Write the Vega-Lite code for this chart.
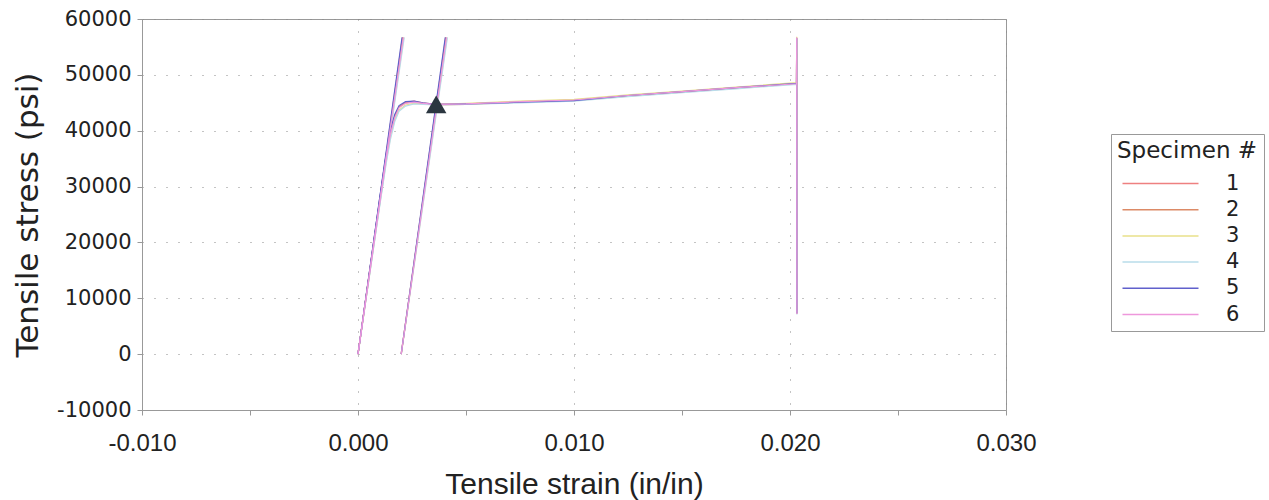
{
  "$schema": "https://vega.github.io/schema/vega-lite/v6.json",
  "autosize": {"type": "none"},
  "padding": {"left": 142, "top": 19, "right": 263, "bottom": 90},
  "width": 864,
  "height": 391,
  "background": "white",
  "config": {
    "font": "DejaVu Sans",
    "view": {"stroke": "#999999", "strokeWidth": 1},
    "axis": {
      "domainColor": "#999999",
      "tickColor": "#999999",
      "labelColor": "#222222",
      "titleColor": "#222222",
      "titleFontWeight": "normal"
    }
  },
  "layer": [
    {
      "data": {
        "values": [
          {"s":"1","g":"c","i":0,"x":0,"y":0},{"s":"1","g":"c","i":1,"x":0.0005,"y":13600},{"s":"1","g":"c","i":2,"x":0.001,"y":27200},{"s":"1","g":"c","i":3,"x":0.0013,"y":35200},{"s":"1","g":"c","i":4,"x":0.0015,"y":39600},{"s":"1","g":"c","i":5,"x":0.0017,"y":42600},{"s":"1","g":"c","i":6,"x":0.0019,"y":44300},{"s":"1","g":"c","i":7,"x":0.0022,"y":45100},{"s":"1","g":"c","i":8,"x":0.0026,"y":45300},{"s":"1","g":"c","i":9,"x":0.003,"y":45000},{"s":"1","g":"c","i":10,"x":0.0036,"y":44700},{"s":"1","g":"c","i":11,"x":0.005,"y":44800},{"s":"1","g":"c","i":12,"x":0.0075,"y":45200},{"s":"1","g":"c","i":13,"x":0.01,"y":45500},{"s":"1","g":"c","i":14,"x":0.0125,"y":46300},{"s":"1","g":"c","i":15,"x":0.015,"y":47000},{"s":"1","g":"c","i":16,"x":0.0175,"y":47700},{"s":"1","g":"c","i":17,"x":0.0203,"y":48500},{"s":"1","g":"c","i":18,"x":0.02031,"y":56700},{"s":"1","g":"c","i":19,"x":0.02032,"y":7300},
          {"s":"1","g":"m","i":0,"x":0,"y":0},{"s":"1","g":"m","i":1,"x":0.00208,"y":56700},
          {"s":"1","g":"o","i":0,"x":0.002,"y":0},{"s":"1","g":"o","i":1,"x":0.00408,"y":56700},

          {"s":"2","g":"c","i":0,"x":0,"y":0},{"s":"2","g":"c","i":1,"x":0.0005,"y":13800},{"s":"2","g":"c","i":2,"x":0.001,"y":27500},{"s":"2","g":"c","i":3,"x":0.0013,"y":35400},{"s":"2","g":"c","i":4,"x":0.0015,"y":39700},{"s":"2","g":"c","i":5,"x":0.0017,"y":42600},{"s":"2","g":"c","i":6,"x":0.0019,"y":44200},{"s":"2","g":"c","i":7,"x":0.0022,"y":45000},{"s":"2","g":"c","i":8,"x":0.0026,"y":45200},{"s":"2","g":"c","i":9,"x":0.003,"y":44900},{"s":"2","g":"c","i":10,"x":0.0036,"y":44600},{"s":"2","g":"c","i":11,"x":0.005,"y":44700},{"s":"2","g":"c","i":12,"x":0.0075,"y":45100},{"s":"2","g":"c","i":13,"x":0.01,"y":45400},{"s":"2","g":"c","i":14,"x":0.0125,"y":46200},{"s":"2","g":"c","i":15,"x":0.015,"y":46900},{"s":"2","g":"c","i":16,"x":0.0175,"y":47600},{"s":"2","g":"c","i":17,"x":0.0203,"y":48400},{"s":"2","g":"c","i":18,"x":0.02031,"y":56500},{"s":"2","g":"c","i":19,"x":0.02032,"y":7200},
          {"s":"2","g":"m","i":0,"x":0,"y":0},{"s":"2","g":"m","i":1,"x":0.00206,"y":56700},
          {"s":"2","g":"o","i":0,"x":0.002,"y":0},{"s":"2","g":"o","i":1,"x":0.00406,"y":56700},

          {"s":"3","g":"c","i":0,"x":0,"y":0},{"s":"3","g":"c","i":1,"x":0.0005,"y":13300},{"s":"3","g":"c","i":2,"x":0.001,"y":26700},{"s":"3","g":"c","i":3,"x":0.0013,"y":34400},{"s":"3","g":"c","i":4,"x":0.0015,"y":38800},{"s":"3","g":"c","i":5,"x":0.0017,"y":41900},{"s":"3","g":"c","i":6,"x":0.0019,"y":43700},{"s":"3","g":"c","i":7,"x":0.0022,"y":44600},{"s":"3","g":"c","i":8,"x":0.0026,"y":44900},{"s":"3","g":"c","i":9,"x":0.003,"y":44800},{"s":"3","g":"c","i":10,"x":0.0036,"y":44700},{"s":"3","g":"c","i":11,"x":0.005,"y":44900},{"s":"3","g":"c","i":12,"x":0.0075,"y":45300},{"s":"3","g":"c","i":13,"x":0.01,"y":45600},{"s":"3","g":"c","i":14,"x":0.0125,"y":46400},{"s":"3","g":"c","i":15,"x":0.015,"y":47100},{"s":"3","g":"c","i":16,"x":0.0175,"y":47800},{"s":"3","g":"c","i":17,"x":0.0203,"y":48600},{"s":"3","g":"c","i":18,"x":0.02031,"y":56800},{"s":"3","g":"c","i":19,"x":0.02032,"y":7400},
          {"s":"3","g":"m","i":0,"x":0,"y":0},{"s":"3","g":"m","i":1,"x":0.00212,"y":56700},
          {"s":"3","g":"o","i":0,"x":0.002,"y":0},{"s":"3","g":"o","i":1,"x":0.00412,"y":56700},

          {"s":"4","g":"c","i":0,"x":0,"y":0},{"s":"4","g":"c","i":1,"x":0.0005,"y":13200},{"s":"4","g":"c","i":2,"x":0.001,"y":26400},{"s":"4","g":"c","i":3,"x":0.0013,"y":34000},{"s":"4","g":"c","i":4,"x":0.0015,"y":38400},{"s":"4","g":"c","i":5,"x":0.0017,"y":41600},{"s":"4","g":"c","i":6,"x":0.0019,"y":43500},{"s":"4","g":"c","i":7,"x":0.0022,"y":44400},{"s":"4","g":"c","i":8,"x":0.0026,"y":44800},{"s":"4","g":"c","i":9,"x":0.003,"y":44700},{"s":"4","g":"c","i":10,"x":0.0036,"y":44600},{"s":"4","g":"c","i":11,"x":0.005,"y":44700},{"s":"4","g":"c","i":12,"x":0.0075,"y":45000},{"s":"4","g":"c","i":13,"x":0.01,"y":45300},{"s":"4","g":"c","i":14,"x":0.0125,"y":46100},{"s":"4","g":"c","i":15,"x":0.015,"y":46800},{"s":"4","g":"c","i":16,"x":0.0175,"y":47500},{"s":"4","g":"c","i":17,"x":0.0203,"y":48300},{"s":"4","g":"c","i":18,"x":0.02031,"y":56400},{"s":"4","g":"c","i":19,"x":0.02032,"y":7100},
          {"s":"4","g":"m","i":0,"x":0,"y":0},{"s":"4","g":"m","i":1,"x":0.00214,"y":56700},
          {"s":"4","g":"o","i":0,"x":0.002,"y":0},{"s":"4","g":"o","i":1,"x":0.00414,"y":56700},

          {"s":"5","g":"c","i":0,"x":0,"y":0},{"s":"5","g":"c","i":1,"x":0.0005,"y":13900},{"s":"5","g":"c","i":2,"x":0.001,"y":27800},{"s":"5","g":"c","i":3,"x":0.0013,"y":35700},{"s":"5","g":"c","i":4,"x":0.0015,"y":40000},{"s":"5","g":"c","i":5,"x":0.0017,"y":42900},{"s":"5","g":"c","i":6,"x":0.0019,"y":44500},{"s":"5","g":"c","i":7,"x":0.0022,"y":45200},{"s":"5","g":"c","i":8,"x":0.0026,"y":45300},{"s":"5","g":"c","i":9,"x":0.003,"y":45000},{"s":"5","g":"c","i":10,"x":0.0036,"y":44700},{"s":"5","g":"c","i":11,"x":0.005,"y":44800},{"s":"5","g":"c","i":12,"x":0.0075,"y":45100},{"s":"5","g":"c","i":13,"x":0.01,"y":45400},{"s":"5","g":"c","i":14,"x":0.0125,"y":46300},{"s":"5","g":"c","i":15,"x":0.015,"y":47000},{"s":"5","g":"c","i":16,"x":0.0175,"y":47700},{"s":"5","g":"c","i":17,"x":0.0203,"y":48500},{"s":"5","g":"c","i":18,"x":0.02031,"y":56600},{"s":"5","g":"c","i":19,"x":0.02032,"y":7300},
          {"s":"5","g":"m","i":0,"x":0,"y":0},{"s":"5","g":"m","i":1,"x":0.00204,"y":56700},
          {"s":"5","g":"o","i":0,"x":0.002,"y":0},{"s":"5","g":"o","i":1,"x":0.00404,"y":56700},

          {"s":"6","g":"c","i":0,"x":0,"y":0},{"s":"6","g":"c","i":1,"x":0.0005,"y":13500},{"s":"6","g":"c","i":2,"x":0.001,"y":27000},{"s":"6","g":"c","i":3,"x":0.0013,"y":34900},{"s":"6","g":"c","i":4,"x":0.0015,"y":39300},{"s":"6","g":"c","i":5,"x":0.0017,"y":42300},{"s":"6","g":"c","i":6,"x":0.0019,"y":44100},{"s":"6","g":"c","i":7,"x":0.0022,"y":44900},{"s":"6","g":"c","i":8,"x":0.0026,"y":45100},{"s":"6","g":"c","i":9,"x":0.003,"y":44900},{"s":"6","g":"c","i":10,"x":0.0036,"y":44700},{"s":"6","g":"c","i":11,"x":0.005,"y":44800},{"s":"6","g":"c","i":12,"x":0.0075,"y":45200},{"s":"6","g":"c","i":13,"x":0.01,"y":45500},{"s":"6","g":"c","i":14,"x":0.0125,"y":46300},{"s":"6","g":"c","i":15,"x":0.015,"y":47000},{"s":"6","g":"c","i":16,"x":0.0175,"y":47700},{"s":"6","g":"c","i":17,"x":0.0203,"y":48400},{"s":"6","g":"c","i":18,"x":0.02031,"y":56700},{"s":"6","g":"c","i":19,"x":0.02032,"y":7200},
          {"s":"6","g":"m","i":0,"x":0,"y":0},{"s":"6","g":"m","i":1,"x":0.0021,"y":56700},
          {"s":"6","g":"o","i":0,"x":0.002,"y":0},{"s":"6","g":"o","i":1,"x":0.0041,"y":56700}
        ]
      },
      "mark": {"type": "line", "strokeWidth": 1.2, "clip": true},
      "encoding": {
        "x": {
          "field": "x",
          "type": "quantitative",
          "scale": {"domain": [-0.01, 0.03], "nice": false, "zero": false},
          "axis": {
            "title": "Tensile strain (in/in)",
            "values": [-0.01, -0.005, 0, 0.005, 0.01, 0.015, 0.02, 0.025, 0.03],
            "labelExpr": "abs(datum.value * 100 - round(datum.value * 100)) < 0.000001 ? (datum.value < -0.0000001 ? '-' + format(-datum.value, '.3f') : format(abs(datum.value), '.3f')) : ''",
            "labelFont": "Liberation Sans",
            "labelFontSize": 24,
            "labelPadding": 16,
            "labelFlush": false,
            "labelOverlap": false,
            "tickSize": 5,
            "titleFont": "Liberation Sans",
            "titleFontSize": 30,
            "titlePadding": 14,
            "grid": true,
            "gridColor": "#888888",
            "gridDash": [1, 11],
            "gridOpacity": {"condition": {"test": "abs(datum.value * 100 - round(datum.value * 100)) < 0.000001", "value": 1}, "value": 0}
          }
        },
        "y": {
          "field": "y",
          "type": "quantitative",
          "scale": {"domain": [-10000, 60000], "nice": false, "zero": false},
          "axis": {
            "title": "Tensile stress (psi)",
            "values": [-10000, -5000, 0, 5000, 10000, 15000, 20000, 25000, 30000, 35000, 40000, 45000, 50000, 55000, 60000],
            "labelExpr": "datum.value % 10000 == 0 ? (datum.value < 0 ? '-' + format(-datum.value, 'd') : format(datum.value, 'd')) : ''",
            "labelFont": "DejaVu Sans",
            "labelFontSize": 21,
            "labelPadding": 6,
            "labelFlush": false,
            "labelOverlap": false,
            "tickSize": 5,
            "titleFont": "DejaVu Sans",
            "titleFontSize": 31,
            "titlePadding": 12,
            "grid": true,
            "gridColor": "#888888",
            "gridDash": [1, 11],
            "gridOpacity": {"condition": {"test": "datum.value % 10000 == 0", "value": 1}, "value": 0}
          }
        },
        "color": {
          "field": "s",
          "type": "nominal",
          "scale": {
            "domain": ["1", "2", "3", "4", "5", "6"],
            "range": ["#ee8080", "#dc8a66", "#e8e08a", "#b8dcea", "#6060cc", "#ee98dc"]
          },
          "legend": {
            "title": "Specimen #",
            "orient": "none",
            "legendX": 969,
            "legendY": 115,
            "symbolType": "M-7.6,0H7.6",
            "symbolSize": 100,
            "symbolOffset": 33,
            "symbolStrokeWidth": 1.5,
            "labelOffset": 55,
            "labelFont": "DejaVu Sans",
            "labelFontSize": 21,
            "labelColor": "#222222",
            "titleFont": "DejaVu Sans",
            "titleFontSize": 23,
            "titleFontWeight": "normal",
            "titleColor": "#222222",
            "titlePadding": 10,
            "rowPadding": 4.2,
            "padding": 6,
            "strokeColor": "#999999",
            "fillColor": "white"
          }
        },
        "detail": {"field": "g", "type": "nominal"},
        "order": {"field": "i", "type": "quantitative"}
      }
    },
    {
      "data": {"values": [{"x": 0.00362, "y": 44700}]},
      "mark": {"type": "point", "shape": "triangle-up", "filled": true, "size": 420, "color": "#2b3640", "opacity": 1},
      "encoding": {
        "x": {"field": "x", "type": "quantitative"},
        "y": {"field": "y", "type": "quantitative"}
      }
    }
  ]
}
